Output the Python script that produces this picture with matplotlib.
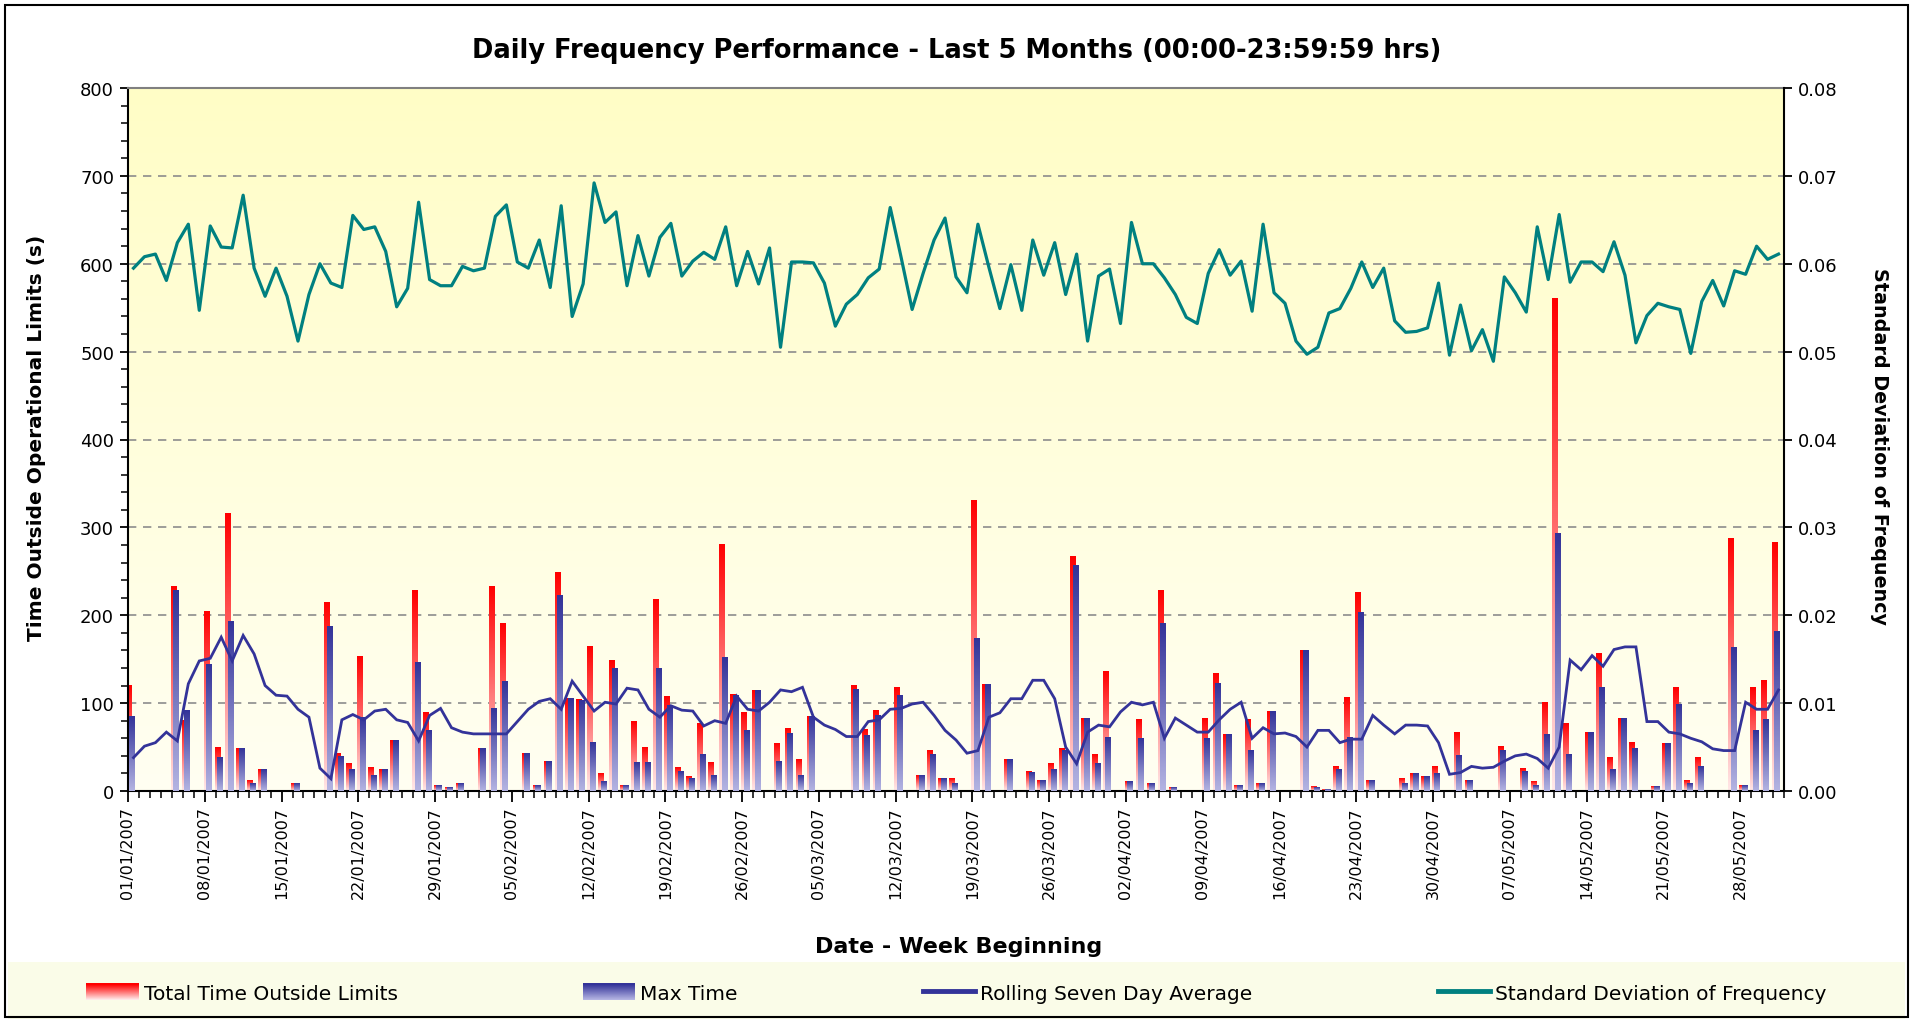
import numpy as np
import matplotlib
matplotlib.use("Agg")
import matplotlib.pyplot as plt
from matplotlib.colors import LinearSegmentedColormap, to_rgb
from matplotlib.patches import Rectangle, Patch
from matplotlib.lines import Line2D
from matplotlib.legend_handler import HandlerBase
from matplotlib.ticker import MultipleLocator, FixedLocator, FuncFormatter

# ---------------- data (one value per day, 01/01/2007 .. 31/05/2007) ----------------
total_time = [
    120, 0, 0, 0, 233, 80, 0, 204, 49, 316,
    48, 12, 25, 0, 0, 9, 0, 0, 214, 43,
    31, 153, 27, 25, 57, 0, 228, 89, 6, 4,
    8, 0, 48, 233, 191, 0, 43, 6, 34, 249,
    105, 104, 165, 20, 148, 6, 79, 49, 218, 108,
    27, 16, 77, 32, 281, 110, 89, 114, 0, 54,
    71, 36, 85, 0, 0, 0, 120, 70, 92, 0,
    118, 0, 18, 46, 14, 14, 0, 331, 121, 0,
    36, 0, 22, 12, 31, 48, 267, 83, 42, 136,
    0, 11, 81, 8, 228, 4, 0, 0, 83, 134,
    64, 6, 81, 8, 91, 0, 0, 160, 5, 2,
    28, 106, 226, 12, 0, 0, 14, 20, 16, 28,
    0, 67, 12, 0, 0, 51, 0, 26, 11, 101,
    560, 77, 0, 67, 156, 38, 83, 55, 0, 5,
    54, 118, 12, 38, 0, 0, 287, 6, 118, 126,
    283]

max_time = [
    85, 0, 0, 0, 228, 92, 0, 144, 38, 193,
    48, 8, 25, 0, 0, 9, 0, 0, 187, 39,
    24, 84, 18, 25, 57, 0, 146, 69, 6, 4,
    8, 0, 48, 94, 125, 0, 43, 6, 34, 222,
    105, 103, 55, 11, 139, 6, 32, 32, 139, 97,
    22, 14, 42, 18, 152, 109, 69, 114, 0, 34,
    66, 18, 85, 0, 0, 0, 116, 63, 86, 0,
    109, 0, 18, 42, 14, 9, 0, 173, 121, 0,
    36, 0, 21, 12, 25, 46, 257, 83, 31, 61,
    0, 11, 60, 8, 191, 4, 0, 0, 60, 122,
    64, 6, 46, 8, 91, 0, 0, 160, 4, 2,
    24, 61, 203, 12, 0, 0, 9, 20, 16, 20,
    0, 40, 12, 0, 0, 46, 0, 22, 6, 64,
    293, 41, 0, 67, 118, 25, 83, 48, 0, 5,
    54, 98, 9, 28, 0, 0, 163, 6, 69, 81,
    181]

rolling_avg = [
    38, 51, 55, 67, 57, 122, 148, 151, 175, 148,
    177, 156, 120, 109, 108, 93, 84, 26, 14, 81,
    87, 81, 91, 93, 81, 78, 57, 86, 94, 72,
    67, 65, 65, 65, 65, 79, 93, 102, 105, 93,
    125, 108, 91, 101, 99, 117, 115, 93, 84, 97,
    92, 91, 74, 80, 77, 108, 93, 91, 101, 115,
    113, 118, 84, 75, 70, 62, 62, 79, 81, 93,
    94, 99, 101, 86, 69, 58, 43, 46, 84, 89,
    105, 105, 126, 126, 105, 50, 31, 67, 75, 73,
    90, 101, 98, 101, 60, 83, 75, 67, 67, 81,
    93, 101, 60, 72, 65, 66, 62, 50, 69, 69,
    55, 59, 59, 86, 75, 65, 75, 75, 74, 55,
    19, 21, 28, 26, 27, 34, 40, 42, 37, 26,
    50, 149, 138, 154, 142, 161, 164, 164, 79, 79,
    67, 65, 60, 56, 48, 46, 46, 101, 93, 93,
    115]

std_freq = [
    0.0595, 0.0608, 0.0611, 0.0581, 0.0624, 0.0645, 0.0547, 0.0643, 0.0619, 0.0618,
    0.0678, 0.0595, 0.0563, 0.0595, 0.0563, 0.0512, 0.0565, 0.0600, 0.0578, 0.0573,
    0.0655, 0.0639, 0.0642, 0.0614, 0.0551, 0.0572, 0.0670, 0.0582, 0.0575, 0.0575,
    0.0597, 0.0592, 0.0595, 0.0654, 0.0667, 0.0602, 0.0595, 0.0627, 0.0573, 0.0666,
    0.0540, 0.0577, 0.0692, 0.0647, 0.0659, 0.0575, 0.0632, 0.0586, 0.0630, 0.0646,
    0.0586, 0.0603, 0.0613, 0.0605, 0.0642, 0.0575, 0.0614, 0.0577, 0.0618, 0.0505,
    0.0602, 0.0602, 0.0601, 0.0578, 0.0529, 0.0554, 0.0565, 0.0584, 0.0594, 0.0664,
    0.0607, 0.0548, 0.0589, 0.0627, 0.0652, 0.0585, 0.0567, 0.0645, 0.0596, 0.0549,
    0.0599, 0.0547, 0.0627, 0.0587, 0.0624, 0.0565, 0.0611, 0.0512, 0.0586, 0.0594,
    0.0532, 0.0647, 0.0600, 0.0600, 0.0584, 0.0565, 0.0539, 0.0532, 0.0589, 0.0616,
    0.0587, 0.0603, 0.0546, 0.0645, 0.0567, 0.0555, 0.0512, 0.0497, 0.0505, 0.0544,
    0.0549, 0.0572, 0.0602, 0.0573, 0.0595, 0.0535, 0.0522, 0.0523, 0.0527, 0.0578,
    0.0496, 0.0553, 0.0501, 0.0525, 0.0489, 0.0585, 0.0567, 0.0545, 0.0642, 0.0582,
    0.0656, 0.0579, 0.0602, 0.0602, 0.0591, 0.0625, 0.0587, 0.0510, 0.0541, 0.0555,
    0.0551, 0.0548, 0.0498, 0.0557, 0.0581, 0.0552, 0.0592, 0.0588, 0.0620, 0.0605,
    0.0611]

week_labels = ["01/01/2007", "08/01/2007", "15/01/2007", "22/01/2007", "29/01/2007",
               "05/02/2007", "12/02/2007", "19/02/2007", "26/02/2007", "05/03/2007",
               "12/03/2007", "19/03/2007", "26/03/2007", "02/04/2007", "09/04/2007",
               "16/04/2007", "23/04/2007", "30/04/2007", "07/05/2007", "14/05/2007",
               "21/05/2007", "28/05/2007"]

# ---------------- figure ----------------
W, H = 1913, 1020
fig = plt.figure(figsize=(W / 100, H / 100), dpi=100)
fig.patch.set_facecolor("white")

# legend band and outer border
fig.add_artist(Rectangle((0.004, 0.0), 0.992, 1 - 963 / H, transform=fig.transFigure,
                         facecolor="#FAFCE8", edgecolor="none", zorder=0))
fig.add_artist(Rectangle((0.0025, 0.002), 0.995, 0.992, transform=fig.transFigure,
                         facecolor="none", edgecolor="black", linewidth=1.5, zorder=10))

L, R, T, B = 128, 1784, 89, 792
ax = fig.add_axes([L / W, 1 - B / H, (R - L) / W, (B - T) / H])
ax.set_zorder(1)

n = len(total_time)
x = np.arange(n)

# plot-area gradient background
bg = LinearSegmentedColormap.from_list("bg", ["#FFFFF2", "#FFFDC6"])
ax.imshow(np.linspace(0, 1, 256).reshape(-1, 1), extent=(0, 1, 0, 1), origin="lower",
          transform=ax.transAxes, aspect="auto", cmap=bg, zorder=0)


def gradient_bars(axis, xs, heights, width, top_col, bottom_col, z):
    bars = axis.bar(xs, heights, width=width, color="none", edgecolor="none", zorder=z)
    cmap = LinearSegmentedColormap.from_list("g", [bottom_col, top_col])
    grad = np.linspace(0, 1, 128).reshape(-1, 1)
    for b in bars:
        h = b.get_height()
        if h <= 0:
            continue
        x0, w = b.get_x(), b.get_width()
        axis.imshow(grad, extent=(x0, x0 + w, 0, h), origin="lower", aspect="auto",
                    cmap=cmap, zorder=z, interpolation="bilinear")
    return bars


red_top, red_bot = "#FF0000", "#FFE8E8"
blue_top, blue_bot = "#333399", "#B4B4E2"
gradient_bars(ax, x - 0.38, total_time, 0.46, red_top, red_bot, 2)
gradient_bars(ax, x - 0.14, max_time, 0.46, blue_top, blue_bot, 3)

ax.plot(x, rolling_avg, color="#333399", lw=2.0, zorder=4, solid_joinstyle="miter")

ax.set_xlim(-0.5, n - 0.5)
ax.set_ylim(0, 800)
ax.yaxis.set_major_locator(MultipleLocator(100))
ax.yaxis.set_minor_locator(MultipleLocator(20))
ax.grid(axis="y", which="major", color="#8C8C8C", linestyle=(0, (5, 4)), linewidth=1.2, zorder=1)
ax.set_axisbelow(True)

# x ticks: minor every day, major every week with label at week start
ax.xaxis.set_minor_locator(FixedLocator(np.arange(n + 1) - 0.5))
major_pos = np.arange(0, n, 7) - 0.5
ax.xaxis.set_major_locator(FixedLocator(major_pos))
ax.set_xticklabels(week_labels, rotation=90, fontsize=11.5)
ax.tick_params(axis="x", which="major", length=8, width=1.3, direction="out", pad=3)
ax.tick_params(axis="x", which="minor", length=5, width=1.1, direction="out")
ax.tick_params(axis="y", which="major", length=6, width=1.3, direction="out", labelsize=13, pad=4)
ax.tick_params(axis="y", which="minor", length=5, width=1.1, direction="out")

for s in ["left", "bottom"]:
    ax.spines[s].set_color("black")
    ax.spines[s].set_linewidth(1.5)
ax.spines["top"].set_color("#808080")
ax.spines["top"].set_linewidth(1.5)
ax.spines["right"].set_visible(False)

# secondary axis: standard deviation
ax2 = ax.twinx()
ax2.set_zorder(2)
ax2.patch.set_visible(False)
ax2.plot(x, std_freq, color="#008080", lw=2.3, zorder=5)
ax2.set_ylim(0, 0.08)
ax2.yaxis.set_major_locator(MultipleLocator(0.01))
ax2.yaxis.set_major_formatter(FuncFormatter(lambda v, p: f"{v:.2f}"))
ax2.tick_params(axis="y", length=6, width=1.3, direction="out", labelsize=13, pad=4)
for s in ["left", "top", "bottom"]:
    ax2.spines[s].set_visible(False)
ax2.spines["right"].set_color("black")
ax2.spines["right"].set_linewidth(1.5)
ax2.set_xlim(-0.5, n - 0.5)

# texts
fig.text(0.5, 1 - 51 / H, "Daily Frequency Performance - Last 5 Months (00:00-23:59:59 hrs)",
         ha="center", va="center", fontsize=18.5, fontweight="bold")
fig.text(37 / W, 1 - 438 / H, "Time Outside Operational Limits (s)", rotation=90,
         ha="center", va="center", fontsize=14.5, fontweight="bold")
fig.text(1879 / W, 1 - 446 / H, "Standard Deviation of Frequency", rotation=270,
         ha="center", va="center", fontsize=13.8, fontweight="bold")
fig.text(959 / W, 1 - 947 / H, "Date - Week Beginning", ha="center", va="center",
         fontsize=16, fontweight="bold")


# legend with gradient swatches
class GradHandler(HandlerBase):
    def __init__(self, top, bottom):
        super().__init__()
        self.top = np.array(to_rgb(top))
        self.bottom = np.array(to_rgb(bottom))

    def create_artists(self, legend, orig_handle, xdescent, ydescent, width, height,
                       fontsize, trans):
        arts = []
        k = 16
        for i in range(k):
            f = i / (k - 1)
            c = self.bottom * (1 - f) + self.top * f
            arts.append(Rectangle((-xdescent, -ydescent + height * i / k), width,
                                  height / k * 1.05, facecolor=c, edgecolor="none",
                                  transform=trans))
        return arts


h_red = Patch(facecolor=red_top)
h_blue = Patch(facecolor=blue_top)
h_roll = Line2D([], [], color="#333399", lw=3.5)
h_std = Line2D([], [], color="#008080", lw=3.5)
fig.legend([h_red, h_blue, h_roll, h_std],
           ["Total Time Outside Limits", "Max Time", "Rolling Seven Day Average",
            "Standard Deviation of Frequency"],
           handler_map={h_red: GradHandler(red_top, red_bot),
                        h_blue: GradHandler(blue_top, blue_bot)},
           loc="center", bbox_to_anchor=(0.5, 1 - 994 / H), ncol=4, frameon=False,
           fontsize=14.5, handlelength=2.6, handleheight=0.85, handletextpad=0.25,
           columnspacing=9.2)

fig.savefig("out.png", dpi=100, facecolor="white")
